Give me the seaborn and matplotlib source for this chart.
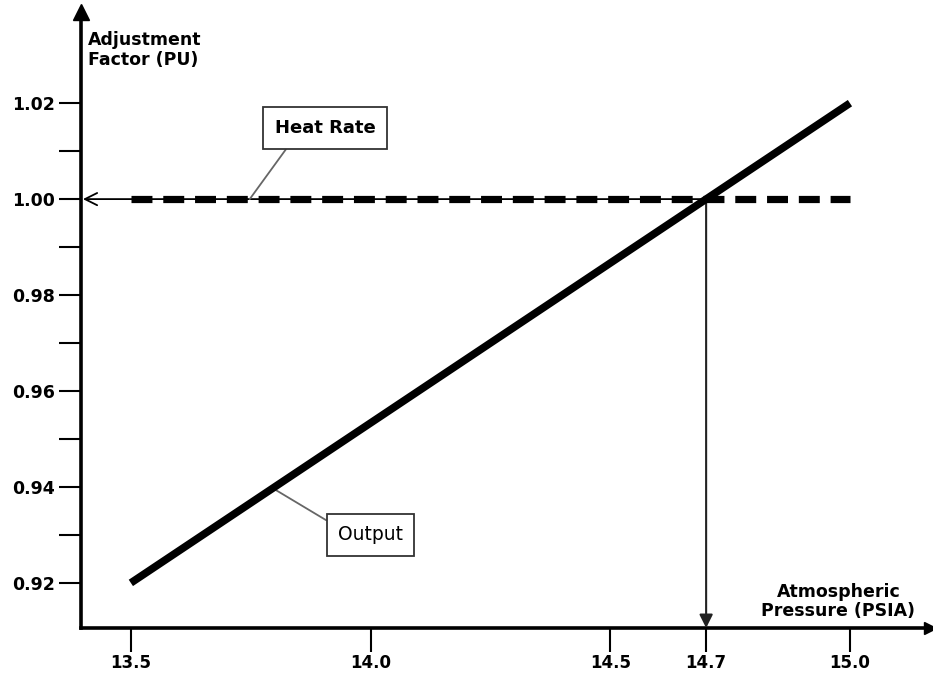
import matplotlib
matplotlib.use("Agg")
import matplotlib.pyplot as plt
import seaborn as sns
import pandas as pd

# data
pressure = [13.5, 15.0]
output_factor = [0.92, 1.02]
heat_rate_factor = [1.00, 1.00]
ref_pressure = 14.7
ref_factor = 1.00

x_ticks = [13.5, 14.0, 14.5, 14.7, 15.0]
x_tick_labels = ["13.5", "14.0", "14.5", "14.7", "15.0"]
y_ticks = [0.92, 0.94, 0.96, 0.98, 1.00, 1.02]
y_minor = [0.93, 0.95, 0.97, 0.99, 1.01]

sns.set_style("white", rc={"text.color": "black", "xtick.color": "black",
                           "ytick.color": "black", "axes.labelcolor": "black"})
plt.rcParams["font.family"] = ["DejaVu Sans"]

df = pd.DataFrame({"pressure": pressure, "output": output_factor, "heat_rate": heat_rate_factor})

fig = plt.figure(figsize=(9.33, 6.77), dpi=100)
ax = fig.add_axes([81 / 933, 49 / 677, 849 / 933, 616 / 677])

# thin reference lines with arrows (drawn first so the thick lines sit on top)
ax.annotate("", xy=(13.40, ref_factor), xytext=(ref_pressure, ref_factor),
            arrowprops=dict(arrowstyle="->", color="black", lw=1.3,
                            mutation_scale=22, shrinkA=0, shrinkB=0))
ax.annotate("", xy=(ref_pressure, 0.9106), xytext=(ref_pressure, ref_factor),
            arrowprops=dict(arrowstyle="-|>", color="#222222", lw=1.5,
                            mutation_scale=20, shrinkA=0, shrinkB=0))

sns.lineplot(data=df, x="pressure", y="heat_rate", ax=ax, color="black",
             linewidth=5.2, linestyle=(0, (2.9, 1.5)), zorder=3)
sns.lineplot(data=df, x="pressure", y="output", ax=ax, color="black",
             linewidth=5.5, zorder=4, solid_capstyle="butt")

ax.set_xlim(13.396, 15.167)
ax.set_ylim(0.9106, 1.039)

ax.set_xticks(x_ticks)
ax.set_xticklabels(x_tick_labels, fontweight="bold", fontsize=12)
ax.set_yticks(y_ticks)
ax.set_yticklabels([f"{v:.2f}" for v in y_ticks], fontweight="bold", fontsize=12.5)
ax.set_yticks(y_minor, minor=True)
ax.tick_params(axis="x", which="major", direction="out", length=17, width=1.5, pad=2, bottom=True)
ax.tick_params(axis="y", which="both", direction="out", length=16, width=1.5, pad=3, left=True)
ax.set_xlabel("")
ax.set_ylabel("")

for side in ["top", "right"]:
    ax.spines[side].set_visible(False)
for side in ["left", "bottom"]:
    ax.spines[side].set_linewidth(2.6)
    ax.spines[side].set_color("black")

# arrow heads on the axes
ax.plot(1, 0, ">k", markersize=9, transform=ax.transAxes, clip_on=False)
ax.plot(0, 1, "^k", markersize=11, transform=ax.transAxes, clip_on=False)

# axis titles
ax.text(13.411, 1.0350, "Adjustment\nFactor (PU)", fontsize=12.5, fontweight="bold",
        ha="left", va="top", linespacing=1.15)
ax.text(14.976, 0.9200, "Atmospheric\nPressure (PSIA)", fontsize=12.5, fontweight="bold",
        ha="center", va="top", linespacing=1.1)

# callout boxes
ax.annotate("Heat Rate", xy=(13.748, ref_factor), xytext=(13.905, 1.0148),
            fontsize=13, fontweight="bold", ha="center", va="center",
            bbox=dict(boxstyle="square,pad=0.65", fc="white", ec="#333333", lw=1.3),
            arrowprops=dict(arrowstyle="-", color="#666666", lw=1.3,
                            relpos=(0.2, 0.0), shrinkA=0, shrinkB=0))
ax.annotate("Output", xy=(13.80, 0.9395), xytext=(14.0, 0.9300),
            fontsize=13.5, ha="center", va="center",
            bbox=dict(boxstyle="square,pad=0.6", fc="white", ec="#333333", lw=1.3),
            arrowprops=dict(arrowstyle="-", color="#666666", lw=1.3,
                            relpos=(0.0, 0.9), shrinkA=0, shrinkB=0))

fig.savefig("out.png", dpi=100)
